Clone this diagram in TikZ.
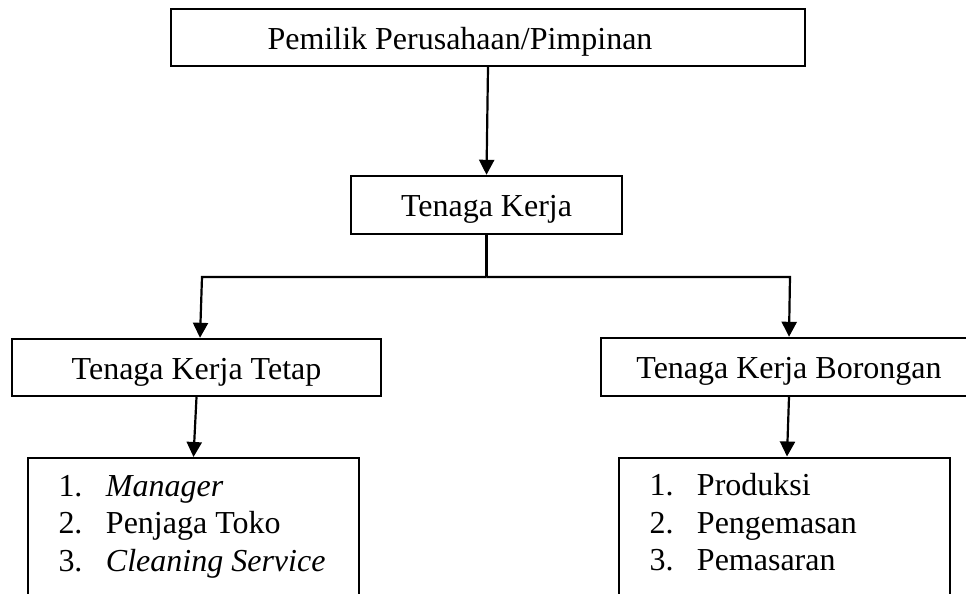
\documentclass[tikz,border=0pt]{standalone}
\usepackage{fontspec}
\setmainfont{Liberation Serif}
\usetikzlibrary{arrows.meta,calc}
\tikzset{
  box/.style={draw, line width=1.2pt, inner sep=0pt, minimum height=28.5pt,
    text height=12pt, text depth=0.5pt,
    font=\fontsize{16pt}{18.75pt}\selectfont},
  listbox/.style={draw, line width=1pt, inner sep=0pt, anchor=north,
    text height=19pt, text depth=100pt,
    font=\fontsize{16pt}{18.75pt}\selectfont},
  conn/.style={line width=1.1pt},
  arr/.style={line width=1.1pt, -{Triangle[length=7.5pt,width=7.5pt]}}
}
\begin{document}
\begin{tikzpicture}[x=0.5pt,y=-0.5pt]
\useasboundingbox (0,0) rectangle (966,594);
\fill[white] (0,0) rectangle (966,594);
\clip (0,0) rectangle (966,594);

\node[box, minimum width=317pt] (top) at (488,37.5) {Pemilik Perusahaan/Pimpinan\hspace*{28pt}};
\node[box, minimum width=135.5pt, minimum height=29pt] (tk) at (486.5,205) {Tenaga Kerja};
\node[box, minimum width=184.5pt] (tkt) at (196.5,367.5) {Tenaga Kerja Tetap};
\node[box, minimum width=188pt, minimum height=29pt] (tkb) at (789,367) {Tenaga Kerja Borongan};

\node[listbox] (bl) at (193.5,457) {\begin{tabular}[t]{@{\hspace{15.25pt}}p{23.75pt}@{}p{126.5pt}@{}}
1. & \textit{Manager}\\
2. & Penjaga Toko\\
3. & \textit{Cleaning Service}
\end{tabular}};
\node[listbox] (br) at (784.5,456.5) {\begin{tabular}[t]{@{\hspace{15.25pt}}p{23.75pt}@{}p{126.5pt}@{}}
1. & Produksi\\
2. & Pengemasan\\
3. & Pemasaran
\end{tabular}};

\coordinate (jl) at (202,277);
\coordinate (jr) at (790,277);

\draw[arr] (top.south) -- (tk.north);
\draw[conn] (tk.south) -- (tk.south |- jl);
\draw[arr] (tk.south |- jl) -- (jl) -- ($(tkt.north)+(3.5,0)$);
\draw[arr] (tk.south |- jl) -- (jr) -- (tkb.north);
\draw[arr] (tkt.south) -- (bl.north);
\draw[arr] (tkb.south) -- ($(br.north)+(2.5,0)$);
\end{tikzpicture}
\end{document}
